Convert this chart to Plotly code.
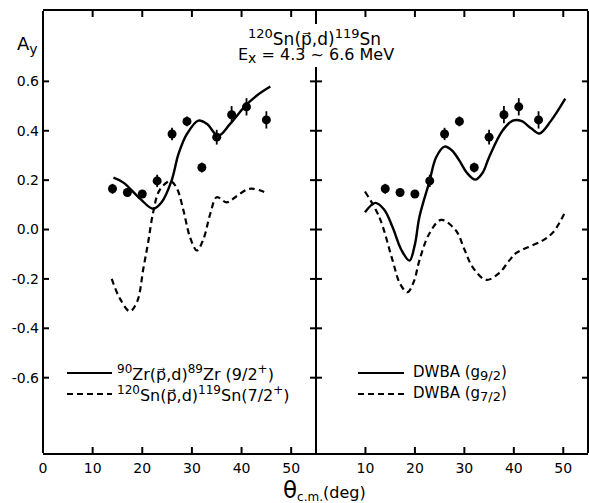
import plotly.graph_objects as go

# Measured analysing power (same data shown in both panels)
theta = [14, 17, 20, 23, 26, 29, 32, 35, 38, 41, 45]
ay = [0.165, 0.150, 0.144, 0.197, 0.387, 0.438, 0.251, 0.374, 0.465, 0.497, 0.444]
ay_err = [0.02, 0.015, 0.015, 0.025, 0.025, 0.02, 0.02, 0.03, 0.035, 0.035, 0.035]

# Left panel: empirical shapes from other transitions
zr_x = [14.2, 16.2, 19.6, 22.2, 23.9, 25.9, 27.3, 29.0, 31.3, 33.0, 35.3, 37.7, 40.8, 43.1, 45.8]
zr_y = [0.21, 0.19, 0.124, 0.084, 0.11, 0.198, 0.306, 0.387, 0.441, 0.428, 0.38, 0.428, 0.502, 0.543, 0.579]

sn_x = [13.85, 15.5, 17.5, 19.0, 20.2, 21.2, 22.2, 23.5, 25.7, 27.0, 28.3, 29.6, 31.0, 32.3,
        33.7, 35.0, 37.0, 39.0, 41.1, 42.4, 45.1]
sn_y = [-0.2, -0.28, -0.331, -0.29, -0.16, -0.05, 0.07, 0.16, 0.196, 0.165, 0.077, -0.03, -0.085,
        -0.04, 0.064, 0.131, 0.11, 0.135, 0.162, 0.165, 0.148]

# Right panel: DWBA calculations
g92_x = [9.9, 12.0, 13.8, 15.5, 17.2, 18.9, 20.0, 20.9, 22.9, 24.3, 26.0, 27.5, 29.0, 30.5,
         32.2, 33.7, 35.0, 37.7, 39.8, 41.5, 43.5, 45.2, 47.5, 50.4]
g92_y = [0.07, 0.108, 0.08, 0.009, -0.08, -0.126, -0.06, 0.05, 0.192, 0.293, 0.336, 0.32, 0.279,
         0.23, 0.202, 0.23, 0.293, 0.40, 0.441, 0.44, 0.41, 0.389, 0.44, 0.53]

g72_x = [9.9, 12.8, 15.5, 17.0, 18.5, 19.8, 20.9, 22.9, 25.3, 28.3, 30.0, 31.7, 34.4, 37.1,
         39.1, 40.5, 42.5, 45.8, 48.0, 50.2]
g72_y = [0.154, 0.05, -0.126, -0.22, -0.254, -0.21, -0.126, -0.017, 0.039, -0.004, -0.08,
         -0.153, -0.204, -0.175, -0.125, -0.095, -0.075, -0.045, -0.01, 0.064]

x_ticks_left = [0, 10, 20, 30, 40, 50]
x_ticks_right = [10, 20, 30, 40, 50]
y_ticks = [-0.6, -0.4, -0.2, 0.0, 0.2, 0.4, 0.6]
y_labels = ["-0.6", "-0.4", "-0.2", "0.0", "0.2", "0.4", "0.6"]

FONT = "DejaVu Sans"
W, H = 589, 503
ML, MR, MT, MB = 43, 1, 11, 50
PW, PH = W - ML - MR, H - MT - MB
split = 273 / PW
TICK = 6  # tick length in px


def px(xp):
    return (xp - ML) / PW


def py(yp):
    return (H - MB - yp) / PH


def sup(s, size):
    return "<sup><span style='font-size:%dpx'>%s</span></sup>" % (size, s)


def sub(s, size):
    return "<sub><span style='font-size:%dpx'>%s</span></sub>" % (size, s)


fig = go.Figure()

dash = "6px,4px"
fig.add_trace(go.Scatter(x=zr_x, y=zr_y, mode="lines", line=dict(color="black", width=2.4, shape="spline"),
                         xaxis="x", yaxis="y", showlegend=False))
fig.add_trace(go.Scatter(x=sn_x, y=sn_y, mode="lines", line=dict(color="black", width=2.2, shape="spline", dash=dash),
                         xaxis="x", yaxis="y", showlegend=False))
fig.add_trace(go.Scatter(x=g92_x, y=g92_y, mode="lines", line=dict(color="black", width=2.4, shape="spline"),
                         xaxis="x2", yaxis="y2", showlegend=False))
fig.add_trace(go.Scatter(x=g72_x, y=g72_y, mode="lines", line=dict(color="black", width=2.2, shape="spline", dash=dash),
                         xaxis="x2", yaxis="y2", showlegend=False))

for xa, ya in (("x", "y"), ("x2", "y2")):
    fig.add_trace(go.Scatter(
        x=theta, y=ay, mode="markers",
        marker=dict(color="black", size=9),
        error_y=dict(type="data", array=ay_err, color="black", thickness=1.8, width=0),
        xaxis=xa, yaxis=ya, showlegend=False))

tick_common = dict(showgrid=False, zeroline=False, ticks="",
                   tickfont=dict(family=FONT, size=14, color="black"))
x_common = dict(showline=True, linecolor="black", linewidth=2, mirror=True, ticklabelstandoff=1, **tick_common)
y_common = dict(showline=False, **tick_common)

fig.update_layout(
    width=W, height=H,
    margin=dict(l=ML, r=MR, t=MT, b=MB),
    paper_bgcolor="white", plot_bgcolor="white",
    xaxis=dict(domain=[0, split], range=[0, 55], tickvals=x_ticks_left, anchor="y", **x_common),
    yaxis=dict(domain=[0, 1], range=[-0.905, 0.885], tickvals=y_ticks, ticktext=y_labels, anchor="x",
               ticklabelstandoff=3, **y_common),
    xaxis2=dict(domain=[split, 1], range=[0, 55], tickvals=x_ticks_right, anchor="y2", **x_common),
    yaxis2=dict(domain=[0, 1], range=[-0.905, 0.885], tickvals=y_ticks, showticklabels=False, anchor="x2",
                **y_common),
)

# frame: outer edges and the panel divider (broken where the heading sits)
frame = [(0, 0, 1), (1, 0, 1), (split, 0, py(67)), (split, py(24), 1)]
shapes = [dict(type="line", xref="paper", yref="paper", x0=x, x1=x, y0=y0, y1=y1,
               line=dict(color="black", width=2)) for x, y0, y1 in frame]

# inward tick marks on every side; the divider carries ticks on both sides
tx, ty = TICK / PW, TICK / PH
tick_line = dict(color="black", width=2)
for xref, vals in (("x", x_ticks_left), ("x2", x_ticks_right)):
    for v in vals:
        for y0, y1 in ((0, ty), (1 - ty, 1)):
            shapes.append(dict(type="line", xref=xref, yref="paper", x0=v, x1=v, y0=y0, y1=y1,
                               line=tick_line, layer="above"))
for v in y_ticks:
    for x0, x1 in ((0, tx), (split - tx, split + tx), (1 - tx, 1)):
        shapes.append(dict(type="line", xref="paper", yref="y", x0=x0, x1=x1, y0=v, y1=v,
                           line=tick_line, layer="above"))

ann = []
tf = dict(family=FONT, color="black")
ann.append(dict(text="A" + sub("y", 14), x=px(15), y=py(45), xanchor="left", yanchor="middle",
                font=dict(size=18, **tf)))
ann.append(dict(text=sup("120", 13) + "Sn(p\u20d7,d)" + sup("119", 13) + "Sn", x=px(314), y=py(37),
                xanchor="center", yanchor="middle", font=dict(size=17, **tf)))
ann.append(dict(text="E" + sub("x", 14) + " = 4.3 ~ 6.6 MeV", x=px(316), y=py(56),
                xanchor="center", yanchor="middle", font=dict(size=16, **tf)))
ann.append(dict(text="<span style='font-size:23px'>\u03b8</span>" + sub("c.m.", 12) + "(deg)",
                x=px(324), y=py(491), xanchor="center", yanchor="middle", font=dict(size=16, **tf)))

# legend keys
legend_rows = [
    (67, 112, 115, 373, "solid", 16, sup("90", 12) + "Zr(p\u20d7,d)" + sup("89", 12) + "Zr (9/2" + sup("+", 12) + ")"),
    (67, 112, 115, 394, dash, 16, sup("120", 12) + "Sn(p\u20d7,d)" + sup("119", 12) + "Sn(7/2" + sup("+", 12) + ")"),
    (358, 404, 411, 373, "solid", 15, "DWBA (g" + sub("9/2", 13) + ")"),
    (358, 404, 411, 394, dash, 15, "DWBA (g" + sub("7/2", 13) + ")"),
]
for x0, x1, xt, yy, d, fs, label in legend_rows:
    shapes.append(dict(type="line", xref="paper", yref="paper", x0=px(x0), x1=px(x1), y0=py(yy), y1=py(yy),
                       line=dict(color="black", width=2.2, dash=d)))
    ann.append(dict(text=label, x=px(xt), y=py(yy), xanchor="left", yanchor="middle",
                    font=dict(size=fs, **tf)))

for a in ann:
    a.update(xref="paper", yref="paper", showarrow=False)
fig.update_layout(annotations=ann, shapes=shapes)

fig.write_html("out.html")
